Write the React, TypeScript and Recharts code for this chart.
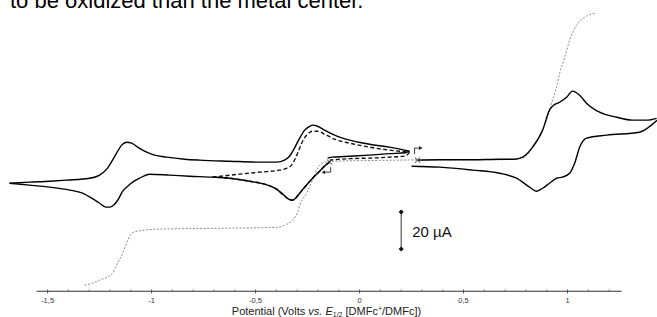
import React from 'react';
import { ComposedChart, Line, XAxis, YAxis, Scatter, ReferenceLine, ReferenceDot, Label } from 'recharts';

// potential (V vs. E1/2 DMFc+/DMFc), current (µA, oxidation up)
// every scan is split into branches so each one runs one way in potential

// wide scan, starts at -0.15 V going negative
const wideDown: [number, number][] = [
  [-0.144, 7.2], [-0.163, 5.6], [-0.192, 2.3], [-0.226, -1.5], [-0.26, -5.8], [-0.288, -9.6],
  [-0.308, -12.3], [-0.322, -13.4], [-0.341, -12.8], [-0.365, -10.6], [-0.399, -7.4], [-0.457, -4.7],
  [-0.529, -3.1], [-0.625, -1.5], [-0.707, -0.9], [-0.817, -0.4], [-0.913, 0.2], [-1.01, 0.7],
  [-1.058, -1.5], [-1.091, -3.6], [-1.115, -5.8], [-1.139, -8.5], [-1.163, -13.4], [-1.183, -16.1],
  [-1.202, -17.1], [-1.221, -17.1], [-1.25, -15.0], [-1.288, -12.3], [-1.332, -9.6], [-1.394, -7.9],
  [-1.49, -6.3], [-1.587, -5.2], [-1.683, -4.2],
];
const wideUp: [number, number][] = [
  [-1.683, -4.2], [-1.587, -3.6], [-1.49, -3.1], [-1.409, -2.5], [-1.298, -1.5], [-1.25, 0.2], [-1.216, 3.4],
  [-1.188, 8.3], [-1.163, 13.1], [-1.144, 16.4], [-1.12, 18.0], [-1.096, 17.5], [-1.067, 15.3],
  [-1.034, 13.1], [-0.986, 11.0], [-0.928, 9.9], [-0.841, 8.8], [-0.769, 8.3], [-0.625, 7.7],
  [-0.481, 7.2], [-0.399, 7.2], [-0.361, 8.3], [-0.337, 10.4], [-0.313, 14.8], [-0.288, 20.2],
  [-0.264, 24.5], [-0.24, 26.6], [-0.226, 27.2], [-0.202, 26.6], [-0.168, 24.5], [-0.12, 21.8],
  [-0.048, 19.1], [0.048, 16.9], [0.144, 15.3], [0.24, 13.1],
];
const wideBack: [number, number][] = [
  [0.24, 13.1], [0.22, 12.3], [0.144, 11.8], [0.048, 11.0], [-0.048, 10.4], [-0.13, 9.9], [-0.154, 9.4],
];

// narrow scan (dashed), -0.15 -> -0.71 -> 0.24 V
const narrowDown: [number, number][] = [
  [-0.144, 7.2], [-0.163, 5.6], [-0.192, 2.3], [-0.226, -1.5], [-0.26, -5.8], [-0.288, -9.6],
  [-0.308, -12.3], [-0.322, -13.4], [-0.341, -12.8], [-0.365, -10.6], [-0.399, -7.4], [-0.457, -4.7],
  [-0.529, -3.1], [-0.625, -1.5], [-0.707, -0.9],
];
const narrowUp: [number, number][] = [
  [-0.707, -0.9], [-0.577, 0.7], [-0.481, 1.8], [-0.385, 2.9], [-0.351, 3.9], [-0.327, 5.6], [-0.308, 9.4],
  [-0.288, 14.8], [-0.269, 19.6], [-0.25, 22.3], [-0.226, 23.9], [-0.202, 23.9], [-0.168, 22.3],
  [-0.12, 19.6], [-0.048, 17.5], [0.048, 15.3], [0.144, 13.7], [0.24, 12.6],
];
const narrowBack: [number, number][] = [
  [0.24, 12.6], [0.22, 10.5], [0.144, 9.9], [0.048, 9.4], [-0.048, 9.1], [-0.144, 8.3],
];

// positive scan, starts at 0.28 V
const oxUp: [number, number][] = [
  [0.279, 8.3], [0.385, 8.5], [0.543, 8.5], [0.673, 8.8], [0.745, 8.8], [0.784, 9.9], [0.832, 15.3],
  [0.88, 24.5], [0.913, 35.3], [0.928, 37.5], [0.962, 39.6], [0.995, 42.3], [1.024, 45.6],
  [1.058, 43.4], [1.091, 39.1], [1.154, 34.2], [1.236, 31.5], [1.313, 29.9], [1.38, 29.9], [1.428, 30.9],
];
const oxBack: [number, number][] = [
  [1.43, 29.8], [1.346, 23.4], [1.188, 21.8], [1.091, 20.2], [1.058, 15.3], [1.034, 6.6],
  [1.01, 1.2], [0.976, -0.9], [0.947, -1.5], [0.913, -4.2], [0.88, -6.9], [0.851, -8.5],
  [0.817, -6.3], [0.755, -1.5], [0.673, 1.2], [0.543, 2.9], [0.385, 4.5], [0.25, 5.0],
];

// steady-state voltammogram (dotted grey)
const steady: [number, number][] = [
  [-1.322, -59.3], [-1.284, -58.2], [-1.25, -56.6], [-1.188, -52.8], [-1.163, -47.4], [-1.139, -42.0],
  [-1.12, -36.6], [-1.096, -31.2], [-1.067, -30.1], [-0.962, -29.0], [-0.639, -28.5], [-0.399, -28.0],
  [-0.351, -26.4], [-0.322, -24.2], [-0.298, -19.8], [-0.288, -16.1], [-0.255, -9.6], [-0.226, -2.5],
  [-0.192, 5.6], [-0.163, 7.2], [-0.12, 7.7], [0.0, 8.0], [0.192, 8.3], [0.385, 8.5], [0.673, 8.5],
  [0.745, 8.8], [0.793, 9.9], [0.851, 19.1], [0.899, 29.9], [0.923, 39.1], [0.947, 47.7], [0.962, 55.3],
  [0.986, 63.9], [1.01, 73.1], [1.043, 81.2], [1.091, 86.1], [1.13, 87.7],
];

const scaleBar: [number, number][] = [[0.2, -19.75], [0.2, -39.75]];
const scaleLabel = '20 µA';

// scan start points, dir = initial scan direction
const scanStarts = [
  { E: -0.144, I: 7.2, dir: -1 },
  { E: 0.279, I: 8.3, dir: 1 },
];

const majorTicks = [-1.5, -1, -0.5, 0, 0.5, 1];
const tickLabels = ['-1,5', '-1', '-0,5', '0', '0,5', '1'];
const minorTicks = [
  -1.4, -1.3, -1.2, -1.1, -0.9, -0.8, -0.7, -0.6, -0.4, -0.3, -0.2, -0.1,
  0.1, 0.2, 0.3, 0.4, 0.6, 0.7, 0.8, 0.9, 1.1, 1.2,
];
const axisRange = [-1.553, 1.26];
const axisLevel = -62.6;

const toPts = (arr: [number, number][]) => arr.map(([E, I]) => ({ E, I }));

const FONT = '"Liberation Sans", Arial, sans-serif';

const AxisTick = (props: any) => {
  const { x, y, payload } = props;
  const idx = majorTicks.indexOf(payload.value);
  if (idx < 0) {
    return <line x1={x} x2={x} y1={y - 2.5} y2={y - 0.5} stroke="#555" strokeWidth={0.8} />;
  }
  return (
    <g>
      <line x1={x} x2={x} y1={y - 2.5} y2={y + 1.5} stroke="#444" strokeWidth={0.9} />
      <text x={x} y={y + 10.5} textAnchor="middle" fontFamily={FONT} fontSize={7.5} fill="#333">
        {tickLabels[idx]}
      </text>
    </g>
  );
};

const AxisTitle = (props: any) => {
  const vb = props.viewBox || { x: 0, width: 0, y: 0 };
  const cx = vb.x + vb.width / 2 - 5;
  return (
    <text x={cx} y={314.5} textAnchor="middle" fontFamily={FONT} fontSize={11} fill="#222">
      <tspan>Potential (Volts </tspan>
      <tspan fontStyle="italic">vs.</tspan>
      <tspan> </tspan>
      <tspan fontStyle="italic">E</tspan>
      <tspan fontSize={7} dy={2}>1/2</tspan>
      <tspan dy={-2}> [DMFc</tspan>
      <tspan fontSize={7} dy={-4}>+</tspan>
      <tspan dy={4}>/DMFc])</tspan>
    </text>
  );
};

const StartMark = (props: any) => {
  const { cx, cy, payload } = props;
  const s = 2.6;
  const cross = (
    <g stroke="#333" strokeWidth={1}>
      <line x1={cx - s} y1={cy - s} x2={cx + s} y2={cy + s} />
      <line x1={cx - s} y1={cy + s} x2={cx + s} y2={cy - s} />
    </g>
  );
  if (payload.dir < 0) {
    const ax = cx + 1;
    return (
      <g>
        {cross}
        <polyline points={`${ax},${cy + 5} ${ax},${cy + 10} ${ax - 7},${cy + 10}`} fill="none" stroke="#222" strokeWidth={0.9} />
        <path d={`M${ax - 9},${cy + 10} L${ax - 5.5},${cy + 8} L${ax - 5.5},${cy + 12} Z`} fill="#222" />
      </g>
    );
  }
  const ax = cx - 3;
  return (
    <g>
      {cross}
      <polyline points={`${ax},${cy - 6} ${ax},${cy - 12} ${ax + 6},${cy - 12}`} fill="none" stroke="#222" strokeWidth={0.9} />
      <path d={`M${ax + 8},${cy - 12} L${ax + 4.5},${cy - 14} L${ax + 4.5},${cy - 10} Z`} fill="#222" />
    </g>
  );
};

const Diamond = (props: any) => {
  const { cx, cy, index } = props;
  const r = 2.6;
  return <path key={`d-${index}`} d={`M${cx},${cy - r} L${cx + r},${cy} L${cx},${cy + r} L${cx - r},${cy} Z`} fill="#111" />;
};

const solidBranches = [wideDown, wideUp, wideBack, oxUp, oxBack];
const dashedBranches = [narrowDown, narrowUp, narrowBack];

export default function App() {
  return (
    <div style={{ position: 'absolute', left: 0, top: 0, width: 657, height: 317, background: '#fff', overflow: 'hidden' }}>
      <svg width={657} height={20} style={{ position: 'absolute', left: 0, top: 0 }}>
        <text x={10} y={7.5} fontFamily={FONT} fontSize={22} fill="#000">
          to be oxidized than the metal center.
        </text>
      </svg>
      <ComposedChart width={657} height={317} margin={{ top: 9, right: 0, bottom: 0, left: 6 }}>
        <XAxis
          type="number"
          dataKey="E"
          domain={[-1.7, 1.43]}
          allowDataOverflow
          ticks={[...majorTicks, ...minorTicks].sort((a, b) => a - b)}
          interval={0}
          tickSize={0}
          tickMargin={0}
          axisLine={false}
          tickLine={false}
          tick={<AxisTick />}
          height={25}
        >
          <Label content={<AxisTitle />} />
        </XAxis>
        <YAxis type="number" dataKey="I" domain={[-63, 90]} allowDataOverflow hide />
        <ReferenceLine
          segment={[{ x: axisRange[0], y: axisLevel }, { x: axisRange[1], y: axisLevel }]}
          stroke="#333"
          strokeWidth={1.2}
          ifOverflow="visible"
        />
        <Line data={toPts(steady)} dataKey="I" type="monotone" stroke="#8a8a8a" strokeWidth={1} strokeDasharray="2 1.6" dot={false} isAnimationActive={false} />
        {dashedBranches.map((b, i) => (
          <Line key={`n${i}`} data={toPts(b)} dataKey="I" type="monotone" stroke="#111" strokeWidth={1.4} strokeDasharray="4 2.5" dot={false} isAnimationActive={false} />
        ))}
        {solidBranches.map((b, i) => (
          <Line key={`s${i}`} data={toPts(b)} dataKey="I" type="monotone" stroke="#000" strokeWidth={1.4} dot={false} isAnimationActive={false} />
        ))}
        <Line data={toPts(scaleBar)} dataKey="I" type="linear" stroke="#333" strokeWidth={1} dot={<Diamond />} isAnimationActive={false} />
        <Scatter data={scanStarts} dataKey="I" shape={<StartMark />} isAnimationActive={false} />
        <ReferenceDot
          x={scaleBar[0][0]}
          y={(scaleBar[0][1] + scaleBar[1][1]) / 2}
          ifOverflow="visible"
          shape={(p: any) => (
            <text x={p.cx + 11} y={p.cy + 6.5} fontFamily={FONT} fontSize={15} fill="#111">
              {scaleLabel}
            </text>
          )}
        />
      </ComposedChart>
    </div>
  );
}
